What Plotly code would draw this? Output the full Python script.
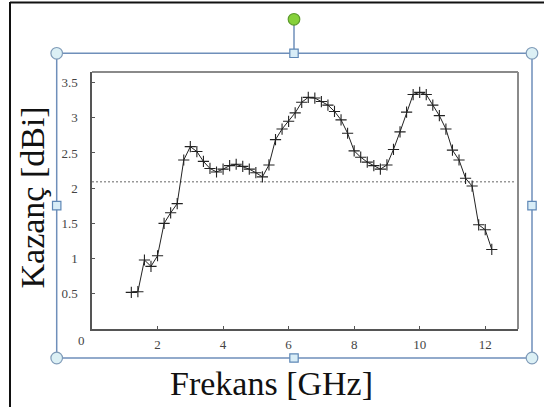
import plotly.graph_objects as go

# ---------------- data ----------------
freq_ghz = [1.2, 1.4, 1.6, 1.8, 2.0, 2.2, 2.4, 2.6, 2.8, 3.0,
            3.2, 3.4, 3.6, 3.8, 4.0, 4.2, 4.4, 4.6, 4.8, 5.0,
            5.2, 5.4, 5.6, 5.8, 6.0, 6.2, 6.4, 6.6, 6.8, 7.0,
            7.2, 7.4, 7.6, 7.8, 8.0, 8.2, 8.4, 8.6, 8.8, 9.0,
            9.2, 9.4, 9.6, 9.8, 10.0, 10.2, 10.4, 10.6, 10.8, 11.0,
            11.2, 11.4, 11.6, 11.8, 12.0, 12.2]
gain_dbi = [0.52, 0.53, 0.98, 0.89, 1.04, 1.50, 1.65, 1.78, 2.40, 2.59,
            2.52, 2.38, 2.28, 2.23, 2.27, 2.32, 2.34, 2.31, 2.27, 2.22,
            2.16, 2.33, 2.69, 2.84, 2.95, 3.07, 3.22, 3.29, 3.28, 3.23,
            3.18, 3.09, 2.97, 2.78, 2.53, 2.44, 2.37, 2.32, 2.27, 2.33,
            2.55, 2.80, 3.08, 3.33, 3.36, 3.33, 3.18, 3.03, 2.84, 2.54,
            2.40, 2.14, 2.03, 1.48, 1.41, 1.13]
ref_level = 2.09
x_tick_vals = [2, 4, 6, 8, 10, 12]
x_tick_text = ["2", "4", "6", "8", "10", "12"]
y_tick_vals = [0.5, 1, 1.5, 2, 2.5, 3, 3.5]
y_tick_text = ["0.5", "1", "1.5", "2", "2.5", "3", "3.5"]
x_title = "Frekans [GHz]"
y_title = "Kazanç [dBi]"
origin_label = "0"

# ---------------- layout geometry (pixels) ----------------
W, H = 544, 407
PL, PR, PT, PB = 92, 518, 72, 329
SERIF = "Liberation Serif, Times New Roman, serif"


def px(x):
    return (x - PL) / (PR - PL)


def py(y):
    return (PB - y) / (PB - PT)


fig = go.Figure()
fig.add_trace(go.Scatter(
    x=freq_ghz, y=gain_dbi, mode="lines+markers",
    line=dict(color="#222222", width=1),
    marker=dict(symbol="cross-thin", size=8, color="#222222",
                line=dict(color="#222222", width=1.1)),
    showlegend=False, hoverinfo="skip"))

shapes = []
# dotted reference line
shapes.append(dict(type="line", xref="paper", yref="y", x0=0, x1=px(514),
                   y0=ref_level, y1=ref_level,
                   line=dict(color="#666666", width=1, dash="2px,2px"), layer="below"))
# gray top/right plot border
shapes.append(dict(type="line", xref="paper", yref="paper", x0=0, x1=1, y0=1, y1=1,
                   line=dict(color="#8a8a8a", width=2)))
shapes.append(dict(type="line", xref="paper", yref="paper", x0=1, x1=1, y0=0, y1=1,
                   line=dict(color="#8a8a8a", width=2)))

# outer black document border
shapes.append(dict(type="line", xref="paper", yref="paper", x0=px(10), x1=px(10),
                   y0=py(2), y1=py(407), line=dict(color="#111111", width=2)))
shapes.append(dict(type="line", xref="paper", yref="paper", x0=px(10), x1=px(544),
                   y0=py(2.5), y1=py(2.5), line=dict(color="#111111", width=2)))

# selection frame
FL, FR, FT, FB = 56.7, 532, 53.3, 358
FC = "#6f8fba"
shapes.append(dict(type="rect", xref="paper", yref="paper", x0=px(FL), x1=px(FR),
                   y0=py(FT), y1=py(FB), line=dict(color=FC, width=1.5)))
mx = 294
my = (FT + FB) / 2
# rotation stem
shapes.append(dict(type="line", xref="paper", yref="paper", x0=px(mx), x1=px(mx),
                   y0=py(24), y1=py(FT), line=dict(color=FC, width=1.5)))


def circle(cx, cy, r, fill, edge):
    return dict(type="circle", xref="paper", yref="paper", x0=px(cx - r), x1=px(cx + r),
                y0=py(cy + r), y1=py(cy - r), fillcolor=fill, line=dict(color=edge, width=1.2))


def square(cx, cy, s, fill, edge):
    return dict(type="rect", xref="paper", yref="paper", x0=px(cx - s), x1=px(cx + s),
                y0=py(cy + s), y1=py(cy - s), fillcolor=fill, line=dict(color=edge, width=1.2))


for cx, cy in [(FL, FT), (FR, FT), (FL, FB), (FR, FB)]:
    shapes.append(circle(cx, cy, 5.8, "#dcf0f5", "#7f9bb8"))
for cx, cy in [(mx, FT), (mx, FB), (FL, my), (FR, my)]:
    shapes.append(square(cx, cy, 4.2, "#d8edf7", "#5f88b6"))
shapes.append(circle(mx, 19.3, 5.8, "#86d13a", "#5c9a2c"))

annotations = [
    dict(text=origin_label, xref="paper", yref="paper", x=px(81.7), y=py(340.7),
         xanchor="center", yanchor="middle", showarrow=False,
         font=dict(family=SERIF, size=13, color="#444444")),
    dict(text=x_title, xref="paper", yref="paper", x=px(271), y=py(383),
         xanchor="center", yanchor="middle", showarrow=False,
         font=dict(family=SERIF, size=34, color="#111111")),
    dict(text=y_title, xref="paper", yref="paper", x=px(32), y=py(197.5),
         xanchor="center", yanchor="middle", showarrow=False, textangle=-90,
         font=dict(family=SERIF, size=34, color="#111111")),
]

axis_common = dict(showgrid=False, zeroline=False, showline=True, linecolor="#555555",
                   linewidth=1.5, ticks="inside", ticklen=3, tickwidth=1, tickcolor="#555555",
                   tickfont=dict(family=SERIF, size=13, color="#444444"), fixedrange=True)

fig.update_layout(
    width=W, height=H,
    margin=dict(l=PL, r=W - PR, t=PT, b=H - PB, pad=0),
    paper_bgcolor="white", plot_bgcolor="white",
    xaxis=dict(range=[0, 13], tickvals=x_tick_vals, ticktext=x_tick_text,
               ticklabelstandoff=3, **axis_common),
    yaxis=dict(range=[0, 3.65], tickvals=y_tick_vals, ticktext=y_tick_text,
               ticklabelstandoff=10, **axis_common),
    shapes=shapes, annotations=annotations,
)

fig.write_html("out.html", config={"displayModeBar": False})
